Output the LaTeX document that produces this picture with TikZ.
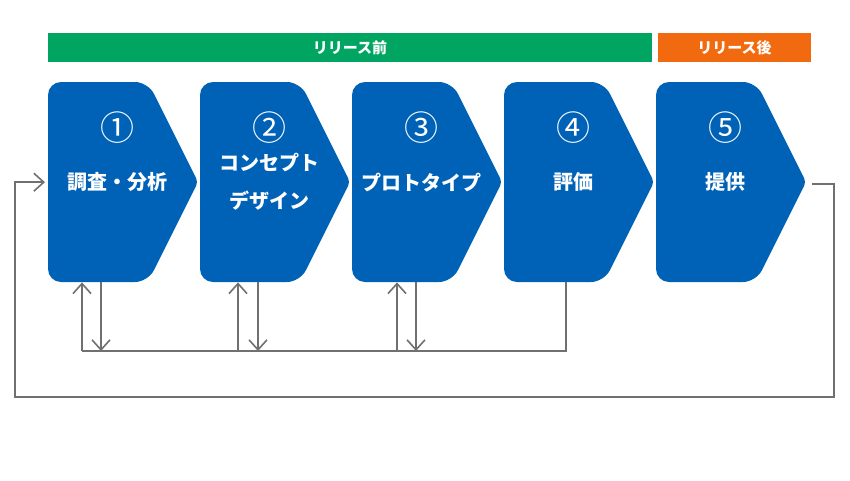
\documentclass[tikz,border=0pt]{standalone}
\usepackage{fontspec}
\newfontfamily\jpfont{Noto Sans CJK JP}
\usetikzlibrary{arrows.meta,calc,positioning}

\definecolor{stepblue}{RGB}{0,98,182}
\definecolor{pregreen}{RGB}{0,165,98}
\definecolor{postorange}{RGB}{242,106,16}
\definecolor{linegray}{RGB}{112,112,112}

\begin{document}
\begin{tikzpicture}[x=1pt,y=-1pt,
  stepbox/.style={minimum width=138pt,minimum height=200pt,anchor=north west,
    inner sep=0pt,align=center,text=white,font=\jpfont\bfseries\fontsize{20}{38}\selectfont},
  numtext/.style={text=white,font=\jpfont\fontsize{34}{34}\selectfont,inner sep=0pt},
  banner/.style={minimum height=29pt,inner sep=0pt,text=white,
    font=\jpfont\bfseries\fontsize{15}{15}\selectfont},
  flow/.style={draw=linegray,line width=1.6pt},
  tip/.style={-{Straight Barb[length=10pt,width=18pt]}}]
\useasboundingbox (0,0) rectangle (850,480);

% banners
\node[banner,fill=pregreen,minimum width=604pt] (pre) at (350,47.5) {リリース前};
\node[banner,fill=postorange,minimum width=153pt] (post) at (734.5,47.5) {リリース後};

% steps
\foreach \i/\x/\num/\lbl in {1/48/①/調査・分析,2/200/②/{コンセプト\\デザイン},
    3/352/③/プロトタイプ,4/504/④/評価,5/656/⑤/提供}{
  \fill[stepblue,rounded corners=13pt] (\x,82) -- (\x+100,82)
    [rounded corners=4pt] -- (\x+150,182) [rounded corners=13pt]
    -- (\x+100,282) -- (\x,282) -- cycle;
  \node[stepbox] (s\i) at (\x,82) {\lbl};
  \node[numtext] (n\i) at ($(s\i.north)+(0,46)$) {\num};
}

% links to the bus
\coordinate (bus) at (0,351);
\coordinate (u1) at ($(s1.south west)+(34,0)$);
\coordinate (d1) at ($(s1.south west)+(53,0)$);
\coordinate (u2) at ($(s2.south west)+(38,0)$);
\coordinate (d2) at ($(s2.south west)+(58,0)$);
\coordinate (u3) at ($(s3.south west)+(45,0)$);
\coordinate (d3) at ($(s3.south west)+(64,0)$);
\coordinate (d4) at ($(s4.south west)+(62,0)$);
\foreach \i in {1,2,3}{
  \draw[flow,tip] (u\i |- bus) -- (u\i);
  \draw[flow,tip] (d\i) -- (d\i |- bus);
}
\draw[flow] (u1 |- bus) -- (d4 |- bus) -- (d4);

% feedback loop
\coordinate (out5) at ($(s5.north west)+(156,102)$);
\coordinate (in1) at ($(s1.west)+(-3,0)$);
\draw[flow,tip] (out5) -- ++(22,0) |- (15,397) |- (in1);
\end{tikzpicture}
\end{document}
